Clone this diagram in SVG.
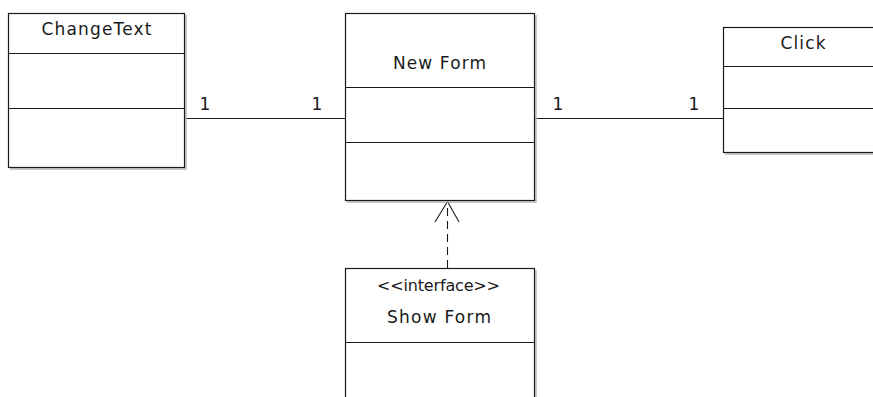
<svg xmlns="http://www.w3.org/2000/svg" width="873" height="397" viewBox="0 0 873 397">
  <style>
    .box { fill: #ffffff; stroke: #1a1a1a; stroke-width: 1.2; }
    .shadow { fill: none; stroke: #b8b8b8; stroke-width: 1.5; }
    .div { stroke: #1a1a1a; stroke-width: 1.2; }
    .t { font-family: "DejaVu Sans", "Liberation Sans", sans-serif; font-size: 17px; fill: #1a1a1a; text-anchor: middle; }
    .s { font-size: 16px; }
    .conn { stroke: #1a1a1a; stroke-width: 1.1; fill: none; }
    .dash { stroke: #1a1a1a; stroke-width: 1.1; fill: none; stroke-dasharray: 8 5; }
  </style>
  <rect width="873" height="397" fill="#ffffff"/>

  <g id="connectors">
    <line class="conn" x1="184.5" y1="118.5" x2="345.5" y2="118.5"/>
    <line class="conn" x1="534.5" y1="118.5" x2="723.5" y2="118.5"/>
    <line class="dash" x1="447.5" y1="268" x2="447.5" y2="203"/>
    <polyline class="conn" points="435,222 447.5,201.5 459,222"/>
    <text class="t" x="205" y="110">1</text>
    <text class="t" x="317" y="110">1</text>
    <text class="t" x="558" y="110">1</text>
    <text class="t" x="694" y="110">1</text>
  </g>

  <g id="changetext">
    <path class="shadow" d="M186 15 V169 H10"/>
    <rect class="box" x="8.5" y="13.5" width="176" height="154"/>
    <line class="div" x1="8.5" y1="53.5" x2="184.5" y2="53.5"/>
    <line class="div" x1="8.5" y1="108.5" x2="184.5" y2="108.5"/>
    <text class="t" x="96.5" y="35" textLength="110" lengthAdjust="spacing">ChangeText</text>
  </g>

  <g id="newform">
    <path class="shadow" d="M536 15 V202 H347"/>
    <rect class="box" x="345.5" y="13.5" width="189" height="187"/>
    <line class="div" x1="345.5" y1="87.5" x2="534.5" y2="87.5"/>
    <line class="div" x1="345.5" y1="142.5" x2="534.5" y2="142.5"/>
    <text class="t" x="439.5" y="69" textLength="93" lengthAdjust="spacing">New Form</text>
  </g>

  <g id="click">
    <path class="shadow" d="M725 154 H880"/>
    <rect class="box" x="723.5" y="27.5" width="160" height="125"/>
    <line class="div" x1="723.5" y1="66.5" x2="883.5" y2="66.5"/>
    <line class="div" x1="723.5" y1="108.5" x2="883.5" y2="108.5"/>
    <text class="t" x="803" y="49" textLength="45" lengthAdjust="spacing">Click</text>
  </g>

  <g id="showform">
    <path class="shadow" d="M536 270 V400"/>
    <rect class="box" x="345.5" y="268.5" width="189" height="140"/>
    <line class="div" x1="345.5" y1="342.5" x2="534.5" y2="342.5"/>
    <text class="t s" x="438.5" y="291" textLength="123" lengthAdjust="spacing">&lt;&lt;interface&gt;&gt;</text>
    <text class="t" x="439" y="323" textLength="104" lengthAdjust="spacing">Show Form</text>
  </g>
</svg>
